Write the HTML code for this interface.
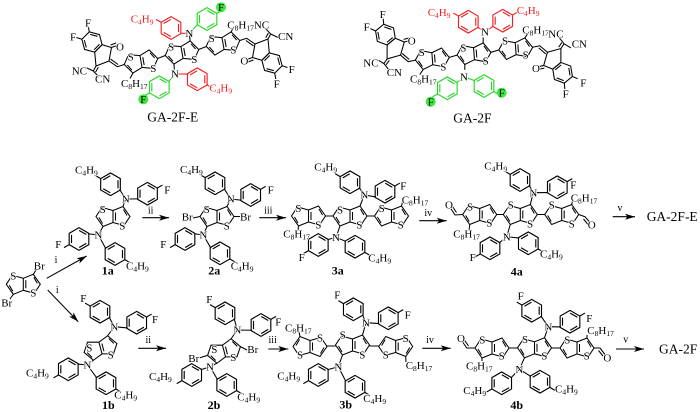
<!DOCTYPE html>
<html><head><meta charset="utf-8"><title>GA-2F synthesis</title>
<style>
html,body{margin:0;padding:0;background:#fff}
svg{display:block;filter:blur(.2px)}
text{font-family:"Liberation Serif",serif;font-size:11px;fill:#000;stroke:#fff;stroke-width:1.6px;paint-order:stroke;stroke-linejoin:round}
.a{text-anchor:middle}
.s{font-size:7.5px}
.r{fill:#f02020}
.n{stroke:none}
.b{font-weight:bold;font-size:12px;text-anchor:middle;stroke:none}
.l{font-size:13.5px;stroke:none}
.i{font-size:10px;text-anchor:middle;stroke:none}
</style></head>
<body>
<svg width="700" height="412" viewBox="0 0 700 412" xmlns="http://www.w3.org/2000/svg">
<defs>
<g id="tt" fill="none"><path d="M0-6V6L11 9 17 0 10-10Z"/><path d="M0 6-10 10-17 0-11-9 0-6"/><path d="M2.5-4V4M10.5-7 14-1M-10.5 7-14 1"/></g>
<g id="hex" fill="none"><path d="M10.5 0 5.25 9.1H-5.25L-10.5 0-5.25-9.1H5.25Z"/><path d="M-3.8 6.9H3.8M7.9-.2 4.1-6.75M-7.9-.2-4.1-6.75"/></g>
<g id="p1" fill="none" transform="scale(1.08)"><use href="#hex"/><path d="M10.5 0H16"/></g>
<g id="p2" fill="none" transform="scale(1.08)"><use href="#hex"/><path d="M-10.5 0H-16"/></g>
<g id="end" fill="none">
<path d="M57.7-12 64.7-14.2 73-8.5M63.9-12 71.5-6.6"/>
<path d="M73-8.5 86-13.5 87.3.4 79.9 7.8 70.5 5Z"/>
<path d="M86-13.5 88.7-18.5M83.7-14.7 86.4-19.5M88.7-18.5 83-24.5M88.7-18.5 96-15"/>
<path d="M70.5 5 65 7M71.4 7.5 65.9 9.5"/>
<use href="#hex" transform="translate(90 10.5) rotate(15)"/>
<path d="M100.1 13.2 105.5 15M92.7 20.6 93.8 26.5"/>
</g>
<g id="skel" fill="none">
<use href="#tt" transform="rotate(-10)"/>
<use href="#tt" transform="translate(-41 9) rotate(-10)"/>
<use href="#tt" transform="translate(41 -9) rotate(-10)"/>
<path d="M-24.3 6-16.7 3M16.7-3 24.3-6"/>
<path d="M8.1-11.6 7.6-17M-8.1 11.6-7.6 17M-49.1 20.6-52 26M49.1-20.6 52-26"/>
<use href="#end"/><use href="#end" transform="rotate(180)"/>
</g>
<marker id="a" markerUnits="userSpaceOnUse" markerWidth="11" markerHeight="8" refX="10" refY="4" orient="auto"><path d="M0 1 10 4 0 7 2.5 4Z" fill="#000"/></marker>
</defs>

<g stroke="#000" stroke-width="1.05" fill="none">
<!-- GA-2F-E -->
<use href="#skel" transform="translate(182 52.5)"/>
<g stroke="#f02020"><use href="#p2" transform="translate(171 28) rotate(30)"/><use href="#p1" transform="translate(197.3 79.3) rotate(30)"/>
<path d="M189.3 33.3 180.1 33.25M175 74 188.2 74.05"/></g>
<g stroke="#22d822"><use href="#p1" transform="translate(207 19) rotate(-30)"/><use href="#p2" transform="translate(159.3 87.3) rotate(-30)"/>
<path d="M189.3 33.3 197.9 24.25M175 74 168.4 82.05"/></g>
<!-- GA-2F -->
<use href="#skel" transform="translate(474 53.7) rotate(5.5)"/>
<g stroke="#f02020"><use href="#p2" transform="translate(468.3 21.7) rotate(30)"/><use href="#p1" transform="translate(502.7 20.7) rotate(-30)"/>
<path d="M477.4 26.95 485 32 493.6 25.95"/></g>
<g stroke="#22d822"><use href="#p2" transform="translate(447.3 88.3) rotate(-30)"/><use href="#p1" transform="translate(484 86) rotate(30)"/>
<path d="M456.4 83.05 464 76.7 474.9 80.75"/></g>

<!-- start -->
<use href="#tt" transform="translate(23.3 284.3)"/>
<path d="M33.3 274.3 36 270M13.3 294.3 10 299"/>

<!-- 1a -->
<use href="#tt" transform="translate(113 216.5)"/>
<use href="#p2" transform="translate(110.5 184.3) rotate(30)"/><use href="#p1" transform="translate(147.5 193.7) rotate(-30)"/><use href="#p2" transform="translate(79 239) rotate(-30)"/><use href="#p1" transform="translate(115 254) rotate(30)"/>
<path d="M123 206.5 125.7 199M103 226.5 98.3 235M119.6 189.5 125.7 199 138.4 198.9M88.1 233.75 98.3 235 105.9 248.75"/>
<!-- 2a -->
<use href="#tt" transform="translate(217 216.5)"/>
<path d="M200 216.5 193 218M234 216.5 240 216.5"/>
<use href="#p2" transform="translate(215 183.3) rotate(30)"/><use href="#p1" transform="translate(250.7 195) rotate(-30)"/><use href="#p2" transform="translate(185 239) rotate(-30)"/><use href="#p1" transform="translate(220 253.3) rotate(30)"/>
<path d="M227 206.5 230.7 199M207 226.5 203.3 235M224.1 188.55 230.7 199 241.6 200.25M194.1 233.75 203.3 235 210.9 248.05"/>
<!-- 3a -->
<use href="#tt" transform="translate(350 216)"/><use href="#tt" transform="translate(308.5 216)"/><use href="#tt" transform="translate(391.5 216)"/>
<path d="M325.5 216H333M367 216H374.5M298.5 226 298 231M401.5 206 403 200"/>
<use href="#p2" transform="translate(350 182.3) rotate(30)"/><use href="#p1" transform="translate(385 191.7) rotate(-30)"/><use href="#p2" transform="translate(318.3 245) rotate(-30)"/><use href="#p1" transform="translate(355 246.7) rotate(30)"/>
<path d="M360 206 364.3 195M340 226 336 237.3M359.1 187.55 364.3 195 375.9 196.95M327.4 239.75 336 237.3 345.9 241.45"/>
<!-- 4a -->
<use href="#tt" transform="translate(520.3 214.5)"/><use href="#tt" transform="translate(479.7 214.5)"/><use href="#tt" transform="translate(561.7 214.5)"/>
<path d="M496.7 214.5H503.3M537.3 214.5H544.7M469.7 224.5 469 231M571.7 204.5 573 199"/>
<path d="M462.7 214.5 455 215 450.5 208M456.5 212.5 452.5 206.5M578.7 214.5 585 216.7 590 222.5M583.5 219 588 224.5"/>
<use href="#p2" transform="translate(520 180) rotate(30)"/><use href="#p1" transform="translate(557.3 187.3) rotate(-30)"/><use href="#p2" transform="translate(490 248.3) rotate(-30)"/><use href="#p1" transform="translate(528.3 243.3) rotate(30)"/>
<path d="M530.3 204.5 533.3 192.7M510.3 224.5 506.7 236.7M529.1 185.25 533.3 192.7 548.2 192.55M499.1 243.05 506.7 236.7 519.2 238.05"/>

<!-- 1b -->
<use href="#tt" transform="translate(100.5 348) rotate(-15)"/>
<use href="#p2" transform="translate(100 311.7) rotate(30)"/><use href="#p1" transform="translate(136.7 322.7) rotate(-30)"/><use href="#p2" transform="translate(68.3 369.3) rotate(-30)"/><use href="#p1" transform="translate(106 383.3) rotate(30)"/>
<path d="M107.6 335.75 114.3 326.7M93.4 360.25 87.3 365M109.1 316.95 114.3 326.7 127.6 327.95M77.4 364.05 87.3 365 96.9 378.05"/>
<!-- 2b -->
<use href="#tt" transform="translate(224 351) rotate(-15)"/>
<path d="M207.6 355.4 199 358M240.4 346.6 247 350"/>
<use href="#p2" transform="translate(225 313.3) rotate(30)"/><use href="#p1" transform="translate(261 325) rotate(-30)"/><use href="#p2" transform="translate(191.7 375) rotate(-30)"/><use href="#p1" transform="translate(226.7 385) rotate(30)"/>
<path d="M231.1 338.75 237.3 330M216.9 363.25 210 366.7M234.1 318.55 237.3 330 251.9 330.25M200.8 369.75 210 366.7 217.6 379.75"/>
<!-- 3b -->
<use href="#tt" transform="translate(352.5 345)"/><use href="#tt" transform="translate(310 346.5) scale(1 -1)"/><use href="#tt" transform="translate(395.7 346.5) scale(1 -1)"/>
<path d="M327 346H335.5M369.5 346H378.7M300 336.5 299 332M405.7 356.5 406 362"/>
<use href="#p2" transform="translate(353.3 309.3) rotate(30)"/><use href="#p1" transform="translate(388.3 318.3) rotate(-30)"/><use href="#p2" transform="translate(318.3 375) rotate(-30)"/><use href="#p1" transform="translate(355 386.7) rotate(30)"/>
<path d="M362.5 335 366 322.7M342.5 355 338.3 366.7M362.4 314.55 366 322.7 379.2 323.55M327.4 369.75 338.3 366.7 345.9 381.45"/>
<!-- 4b -->
<use href="#tt" transform="translate(534.5 347.8)"/><use href="#tt" transform="translate(492 348)"/><use href="#tt" transform="translate(577 348)"/>
<path d="M509 348H517.5M551.5 348H560M482 358 482 361M587 338 587 335"/>
<path d="M475 348H466.7L462 341M468.5 346 464 339.5M594 348H600L605 354.5M598.5 350.5 603 356"/>
<use href="#p2" transform="translate(531.7 310.7) rotate(30)"/><use href="#p1" transform="translate(570 321.7) rotate(-30)"/><use href="#p2" transform="translate(501.7 383.3) rotate(-30)"/><use href="#p1" transform="translate(540 381.7) rotate(30)"/>
<path d="M544.5 337.8 548.3 326.7M524.5 357.8 519.3 369.3M540.8 315.95 548.3 326.7 560.9 326.95M510.8 378.05 519.3 369.3 530.9 376.45"/>

<!-- arrows -->
<path d="M46.7 278.3 86.7 256" marker-end="url(#a)"/>
<path d="M47.7 290 78.3 321.7" marker-end="url(#a)"/>
<path d="M142.3 217.7H169" marker-end="url(#a)"/>
<path d="M259.3 217.7H286" marker-end="url(#a)"/>
<path d="M419.3 220.7H446.7" marker-end="url(#a)"/>
<path d="M612.7 216.7H635" marker-end="url(#a)"/>
<path d="M138.3 348.3H166" marker-end="url(#a)"/>
<path d="M268.3 349H288.3" marker-end="url(#a)"/>
<path d="M422.3 348.3H450.7" marker-end="url(#a)"/>
<path d="M616 349H644" marker-end="url(#a)"/>
</g>

<!-- green F circles -->
<g fill="#3fe83f">
<circle cx="221" cy="7.3" r="5"/><circle cx="143.3" cy="99.3" r="5"/>
<circle cx="430.7" cy="101.7" r="5"/><circle cx="501.7" cy="92.7" r="5"/>
</g>

<!-- GA-2F-E text -->
<text class="a" x="171" y="50.4">S</text><text class="a" x="194.3" y="63">S</text><text class="a" x="130.7" y="60.4">S</text><text class="a" x="153.3" y="72">S</text><text class="a" x="211.7" y="42">S</text><text class="a" x="233.3" y="53.7">S</text>
<text class="a" x="189.3" y="37">N</text><text class="a" x="175" y="77.7">N</text>
<text class="a" x="291.7" y="73">F</text><text class="a" x="276.7" y="87.7">F</text><text class="a" x="88" y="26.4">F</text><text class="a" x="73" y="40.4">F</text>
<text class="a" x="244.3" y="64.7">O</text><text class="a" x="120" y="50.4">O</text>
<text class="a n" x="221" y="11">F</text><text class="a n" x="143.3" y="103">F</text>
<text x="227.3" y="28.3">C<tspan class="s" dy="2">8</tspan><tspan dy="-2">H</tspan><tspan class="s" dy="2">17</tspan><tspan dy="-2">NC</tspan></text>
<text x="278" y="40">CN</text><text x="71.7" y="74.5">NC</text><text x="95" y="82.5">CN</text>
<text x="121" y="87">C<tspan class="s" dy="2">8</tspan><tspan dy="-2">H</tspan><tspan class="s" dy="2">17</tspan></text>
<text class="r" x="130.7" y="22.7">C<tspan class="s r" dy="2">4</tspan><tspan class="r" dy="-2">H</tspan><tspan class="s r" dy="2">9</tspan></text>
<text class="r" x="209.3" y="91.7">C<tspan class="s r" dy="2">4</tspan><tspan class="r" dy="-2">H</tspan><tspan class="s r" dy="2">9</tspan></text>
<text class="l" x="147.3" y="121.7">GA-2F-E</text>

<!-- GA-2F text -->
<text class="a" x="463.3" y="51.4">S</text><text class="a" x="485.7" y="64.4">S</text><text class="a" x="421.7" y="56">S</text><text class="a" x="443.3" y="70.4">S</text><text class="a" x="505" y="44.7">S</text><text class="a" x="525.7" y="58.7">S</text>
<text class="a" x="485" y="35.7">N</text><text class="a" x="464" y="80.4">N</text>
<text class="a" x="583.3" y="86.4">F</text><text class="a" x="565.7" y="97.7">F</text><text class="a" x="382.7" y="18">F</text><text class="a" x="366.7" y="30.4">F</text>
<text class="a" x="536" y="72">O</text><text class="a" x="411.7" y="44.4">O</text>
<text class="a n" x="430.7" y="105.4">F</text><text class="a n" x="501.7" y="96.4">F</text>
<text x="522.3" y="33.3">C<tspan class="s" dy="2">8</tspan><tspan dy="-2">H</tspan><tspan class="s" dy="2">17</tspan></text>
<text x="548.3" y="37.7">NC</text><text x="571.7" y="47.7">CN</text><text x="363.3" y="66.7">NC</text><text x="386.7" y="76">CN</text>
<text x="410" y="82.3">C<tspan class="s" dy="2">8</tspan><tspan dy="-2">H</tspan><tspan class="s" dy="2">17</tspan></text>
<text class="r" x="427.7" y="16">C<tspan class="s r" dy="2">4</tspan><tspan class="r" dy="-2">H</tspan><tspan class="s r" dy="2">9</tspan></text>
<text class="r" x="516.7" y="14">C<tspan class="s r" dy="2">4</tspan><tspan class="r" dy="-2">H</tspan><tspan class="s r" dy="2">9</tspan></text>
<text class="l" x="453.3" y="122.3">GA-2F</text>

<!-- start text -->
<text class="a" x="13.3" y="279.7">S</text><text class="a" x="33.3" y="296.4">S</text>
<text class="a" x="39.3" y="269.5">Br</text><text class="a" x="6.7" y="306.4">Br</text>
<text class="i" x="56" y="263">i</text><text class="i" x="57.3" y="293">i</text>

<!-- 1a -->
<text class="a" x="102.7" y="213">S</text><text class="a" x="122.3" y="229.7">S</text><text class="a" x="125.7" y="202.7">N</text><text class="a" x="98.3" y="238.7">N</text>
<text x="75" y="173.3">C<tspan class="s" dy="2">4</tspan><tspan dy="-2">H</tspan><tspan class="s" dy="2">9</tspan></text>
<text class="a" x="167.3" y="193.7">F</text><text class="a" x="58.3" y="248">F</text>
<text x="126" y="269.3">C<tspan class="s" dy="2">4</tspan><tspan dy="-2">H</tspan><tspan class="s" dy="2">9</tspan></text>
<text class="b" x="107.7" y="274.7">1a</text>
<text class="i" x="150.7" y="213.3">ii</text>
<!-- 2a -->
<text class="a" x="206.7" y="213">S</text><text class="a" x="226.7" y="229.7">S</text><text class="a" x="230.7" y="202.7">N</text><text class="a" x="203.3" y="238.7">N</text>
<text x="181.7" y="220.7">Br</text><text x="240" y="220.7">Br</text>
<text x="180" y="173">C<tspan class="s" dy="2">4</tspan><tspan dy="-2">H</tspan><tspan class="s" dy="2">9</tspan></text>
<text class="a" x="270.7" y="193.7">F</text><text class="a" x="163.3" y="248">F</text>
<text x="230.7" y="269.3">C<tspan class="s" dy="2">4</tspan><tspan dy="-2">H</tspan><tspan class="s" dy="2">9</tspan></text>
<text class="b" x="214.3" y="274.7">2a</text>
<text class="i" x="268.3" y="213.3">iii</text>
<!-- 3a -->
<text class="a" x="340" y="213.7">S</text><text class="a" x="359.3" y="228.7">S</text><text class="a" x="298.3" y="212">S</text><text class="a" x="318.3" y="228.7">S</text><text class="a" x="381.7" y="212">S</text><text class="a" x="400.7" y="228.7">S</text>
<text class="a" x="364.3" y="198.7">N</text><text class="a" x="336" y="241">N</text>
<text x="283.3" y="237.3">C<tspan class="s" dy="2">8</tspan><tspan dy="-2">H</tspan><tspan class="s" dy="2">17</tspan></text>
<text x="401.7" y="203.3">C<tspan class="s" dy="2">8</tspan><tspan dy="-2">H</tspan><tspan class="s" dy="2">17</tspan></text>
<text x="314.3" y="170.7">C<tspan class="s" dy="2">4</tspan><tspan dy="-2">H</tspan><tspan class="s" dy="2">9</tspan></text>
<text class="a" x="403.3" y="189.5">F</text><text class="a" x="301.7" y="261">F</text>
<text x="368.3" y="261.7">C<tspan class="s" dy="2">4</tspan><tspan dy="-2">H</tspan><tspan class="s" dy="2">9</tspan></text>
<text class="b" x="337.7" y="274.7">3a</text>
<text class="i" x="428.3" y="216">iv</text>
<!-- 4a -->
<text class="a" x="510.7" y="208.7">S</text><text class="a" x="530" y="227.7">S</text><text class="a" x="470" y="210.4">S</text><text class="a" x="489.3" y="226.4">S</text><text class="a" x="551.7" y="208.7">S</text><text class="a" x="571.7" y="227.7">S</text>
<text class="a" x="449" y="208.7">O</text><text class="a" x="591.7" y="228.7">O</text>
<text class="a" x="533.3" y="196.4">N</text><text class="a" x="506.7" y="240.4">N</text>
<text x="453.3" y="237.3">C<tspan class="s" dy="2">8</tspan><tspan dy="-2">H</tspan><tspan class="s" dy="2">17</tspan></text>
<text x="570.7" y="201.7">C<tspan class="s" dy="2">8</tspan><tspan dy="-2">H</tspan><tspan class="s" dy="2">17</tspan></text>
<text x="484.3" y="169.3">C<tspan class="s" dy="2">4</tspan><tspan dy="-2">H</tspan><tspan class="s" dy="2">9</tspan></text>
<text class="a" x="573.3" y="188.7">F</text><text class="a" x="472.7" y="261">F</text>
<text x="540" y="257.3">C<tspan class="s" dy="2">4</tspan><tspan dy="-2">H</tspan><tspan class="s" dy="2">9</tspan></text>
<text class="b" x="516.7" y="275.7">4a</text>
<text class="i" x="620" y="211">v</text>
<text class="l" x="646.7" y="221">GA-2F-E</text>

<!-- 1b -->
<text class="a" x="89.3" y="351.7">S</text><text class="a" x="110.7" y="358.7">S</text><text class="a" x="114.3" y="330.4">N</text><text class="a" x="87.3" y="368.7">N</text>
<text class="a" x="83.3" y="302">F</text><text class="a" x="155" y="323">F</text>
<text x="26" y="376.7">C<tspan class="s" dy="2">4</tspan><tspan dy="-2">H</tspan><tspan class="s" dy="2">9</tspan></text>
<text x="114.3" y="398.3">C<tspan class="s" dy="2">4</tspan><tspan dy="-2">H</tspan><tspan class="s" dy="2">9</tspan></text>
<text class="b" x="108.3" y="409">1b</text>
<text class="i" x="148.3" y="343">ii</text>
<!-- 2b -->
<text class="a" x="214.3" y="353">S</text><text class="a" x="233.3" y="361">S</text><text class="a" x="237.3" y="333.7">N</text><text class="a" x="210" y="370.4">N</text>
<text x="188.3" y="362">Br</text><text x="247.3" y="352.8">Br</text>
<text class="a" x="209.3" y="303">F</text><text class="a" x="278.3" y="325.4">F</text>
<text x="149" y="380">C<tspan class="s" dy="2">4</tspan><tspan dy="-2">H</tspan><tspan class="s" dy="2">9</tspan></text>
<text x="237.3" y="400.7">C<tspan class="s" dy="2">4</tspan><tspan dy="-2">H</tspan><tspan class="s" dy="2">9</tspan></text>
<text class="b" x="214" y="409">2b</text>
<text class="i" x="272.7" y="343">iii</text>
<!-- 3b -->
<text class="a" x="342.7" y="338.7">S</text><text class="a" x="362.3" y="358.7">S</text><text class="a" x="320" y="341.4">S</text><text class="a" x="300" y="358.7">S</text><text class="a" x="405.7" y="342">S</text><text class="a" x="385.7" y="358.7">S</text>
<text class="a" x="366" y="326.4">N</text><text class="a" x="338.3" y="370.4">N</text>
<text x="285" y="331.7">C<tspan class="s" dy="2">8</tspan><tspan dy="-2">H</tspan><tspan class="s" dy="2">17</tspan></text>
<text x="405.7" y="369">C<tspan class="s" dy="2">8</tspan><tspan dy="-2">H</tspan><tspan class="s" dy="2">17</tspan></text>
<text class="a" x="337.3" y="298.7">F</text><text class="a" x="407.7" y="318.7">F</text>
<text x="277.3" y="379.3">C<tspan class="s" dy="2">4</tspan><tspan dy="-2">H</tspan><tspan class="s" dy="2">9</tspan></text>
<text x="363.3" y="402">C<tspan class="s" dy="2">4</tspan><tspan dy="-2">H</tspan><tspan class="s" dy="2">9</tspan></text>
<text class="b" x="345.7" y="408.7">3b</text>
<text class="i" x="430" y="343">iv</text>
<!-- 4b -->
<text class="a" x="525" y="343">S</text><text class="a" x="544.3" y="359.7">S</text><text class="a" x="482.3" y="343.7">S</text><text class="a" x="501.7" y="359.7">S</text><text class="a" x="567.3" y="343.7">S</text><text class="a" x="586.7" y="359.7">S</text>
<text class="a" x="461" y="342">O</text><text class="a" x="607.3" y="361.4">O</text>
<text class="a" x="548.3" y="330.4">N</text><text class="a" x="519.3" y="373">N</text>
<text x="466" y="369.3">C<tspan class="s" dy="2">8</tspan><tspan dy="-2">H</tspan><tspan class="s" dy="2">17</tspan></text>
<text x="587.3" y="334">C<tspan class="s" dy="2">8</tspan><tspan dy="-2">H</tspan><tspan class="s" dy="2">17</tspan></text>
<text class="a" x="520.7" y="299.7">F</text><text class="a" x="589.3" y="322">F</text>
<text x="463.3" y="394">C<tspan class="s" dy="2">4</tspan><tspan dy="-2">H</tspan><tspan class="s" dy="2">9</tspan></text>
<text x="555" y="392.7">C<tspan class="s" dy="2">4</tspan><tspan dy="-2">H</tspan><tspan class="s" dy="2">9</tspan></text>
<text class="b" x="516.7" y="409">4b</text>
<text class="i" x="625.7" y="342.7">v</text>
<text class="l" x="659" y="353.3">GA-2F</text>
</svg>
</body></html>
